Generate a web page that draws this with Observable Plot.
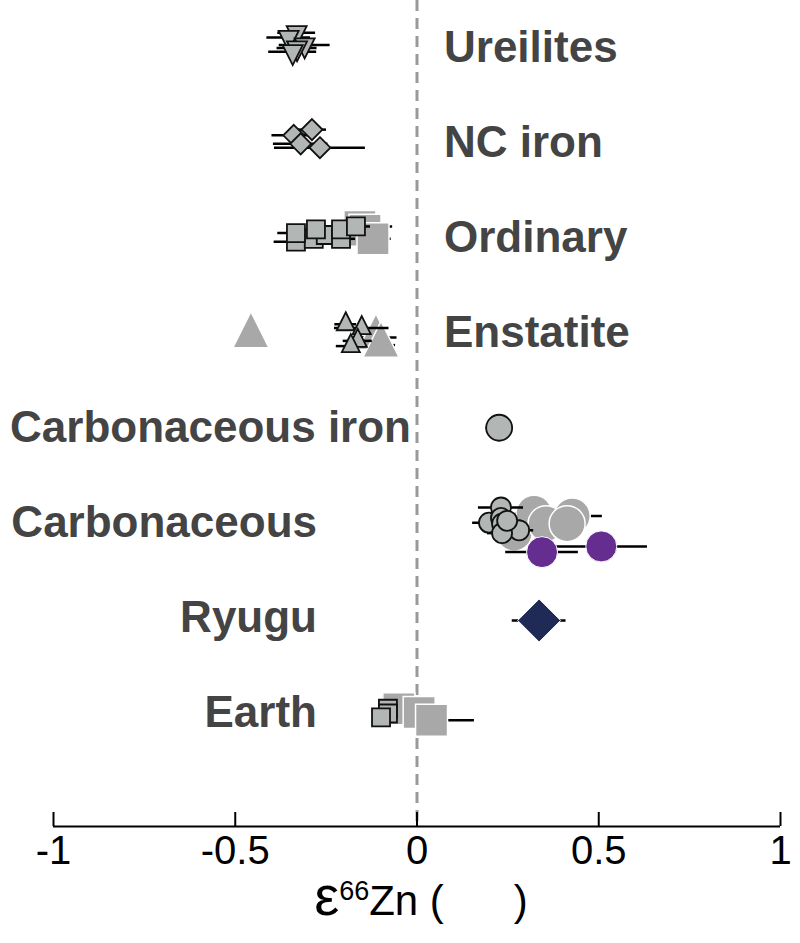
<!DOCTYPE html>
<html><head><meta charset="utf-8">
<script src="https://cdn.jsdelivr.net/npm/d3@7"></script>
<script src="https://cdn.jsdelivr.net/npm/@observablehq/plot@0.6"></script>
<style>body{margin:0;background:#fff;} #chart svg{display:block;}</style>
</head><body><div id="chart"></div>
<script>
// ---------- data ----------
const categories = ["Ureilites","NC iron","Ordinary","Enstatite","Carbonaceous iron","Carbonaceous","Ryugu","Earth"];
const labelSide = ["right","right","right","right","left","left","left","left"];
const xTicks = [-1, -0.5, 0, 0.5, 1];
const xTickLabels = ["-1", "-0.5", "0", "0.5", "1"];
const xLabelParts = ["ε", "66", "Zn (      )"];

// literature data (small outlined markers): group index, ε66Zn, error, vertical jitter within row
const litGroup  = [0,0,0,0,0, 1,1,1,1, 2,2,2,2,2,2,2,2, 3,3,3,3, 4, 5,5,5,5,5,5,5, 7,7,7];
const litValue  = [-0.331,-0.353,-0.309,-0.330,-0.342, -0.289,-0.339,-0.320,-0.267,
                   -0.333,-0.284,-0.251,-0.209,-0.333,-0.278,-0.209,-0.168,
                   -0.196,-0.152,-0.163,-0.182, 0.226,
                   0.231,0.198,0.231,0.234,0.281,0.234,0.248, -0.080,-0.080,-0.099];
const litError  = [0.052,0.060,0.070,0.055,0.066, 0.040,0.060,0.075,0.125,
                   0.060,0.040,0.040,0.040,0.050,0.040,0.040,0.040,
                   0.030,0.075,0.040,0.040, 0.036,
                   0.062,0.045,0.040,0.040,0.040,0.040,0.040, 0.020,0.020,0.020];
const litJitter = [-0.16,-0.11,-0.03,0.00,0.04, -0.14,-0.08,0.01,0.05,
                   0.04,0.01,-0.03,0.01,-0.05,-0.09,-0.09,-0.12,
                   -0.09,-0.05,0.085,0.14, 0.0,
                   -0.16,0.0,-0.05,0.01,0.08,0.11,-0.02, -0.04,0.01,0.05];

// this-study data (large grey markers)
const newGroup  = [2,2,2, 3,3,3, 5,5,5,5,5, 7,7,7];
const newValue  = [-0.157,-0.143,-0.121, -0.457,-0.113,-0.099, 0.267,0.322,0.355,0.427,0.413, -0.050,0.006,0.040];
const newError  = [0.090,0.050,0.050, 0.030,0.058,0.040, 0.040,0.050,0.050,0.083,0.050, 0.030,0.030,0.118];
const newJitter = [-0.12,-0.08,0.01, 0.03,0.05,0.13, 0.11,-0.10,0.01,-0.07,0.01, -0.04,0.0,0.08];

// highlighted carbonaceous samples (purple)
const cGroup  = [5,5];
const cValue  = [0.344, 0.507];
const cError  = [0.100, 0.127];
const cJitter = [0.31, 0.25];

// Ryugu
const ryGroup  = [6];
const ryValue  = [0.336];
const ryError  = [0.074];
const ryJitter = [0.03];

// ---------- build tables ----------
const table = (G, V, E, J) => V.map((v, i) => ({g: G[i], x: v, err: E[i], y: G[i] + 1 + J[i]}));
const lit = table(litGroup, litValue, litError, litJitter);
const neu = table(newGroup, newValue, newError, newJitter);
const carb = table(cGroup, cValue, cError, cJitter);
const ryugu = table(ryGroup, ryValue, ryError, ryJitter);
const labels = categories.map((c, i) => ({name: c, y: i + 1, side: labelSide[i]}));

// ---------- symbols (r = half extent) ----------
const mk = fn => ({draw(ctx, size) { const r = Math.sqrt(size / Math.PI); fn(ctx, r); }});
const SQ = mk((c, r) => { c.rect(-r, -r, 2 * r, 2 * r); });
const DI = mk((c, r) => { c.moveTo(0, -r); c.lineTo(r, 0); c.lineTo(0, r); c.lineTo(-r, 0); c.closePath(); });
const TU = mk((c, r) => { c.moveTo(0, -4 * r / 3); c.lineTo(r, 2 * r / 3); c.lineTo(-r, 2 * r / 3); c.closePath(); });
const TD = mk((c, r) => { c.moveTo(0, 4 * r / 3); c.lineTo(r, -2 * r / 3); c.lineTo(-r, -2 * r / 3); c.closePath(); });
const CI = mk((c, r) => { c.moveTo(r, 0); c.arc(0, 0, r, 0, 2 * Math.PI); c.closePath(); });

const litSym = [TD, DI, SQ, TU, CI, CI, DI, SQ];
const litR   = [10, 10.5, 9, 9, 13, 10, 10, 9];
const newSym = {2: SQ, 3: TU, 5: CI, 7: SQ};
const newR   = {2: 16, 3: 18, 5: 18, 7: 16};

const smallFill = "#b2b7b6", bigFill = "#a8a8a8", purple = "#662d91", navy = "#1f2a56";

const bars = data => Plot.ruleY(data, {y: "y", x1: d => d.x - d.err, x2: d => d.x + d.err, stroke: "#000", strokeWidth: 2.5});

const marks = [];
marks.push(Plot.ruleX([0], {stroke: "#999", strokeWidth: 3, strokeDasharray: "11,7"}));
// large (this study)
marks.push(bars(neu));
for (const g of [2, 3, 5, 7]) {
  marks.push(Plot.dot(neu.filter(d => d.g === g), {x: "x", y: "y", symbol: newSym[g], r: newR[g], fill: bigFill, stroke: "#fff", strokeWidth: 1.5}));
}
// purple carbonaceous
marks.push(bars(carb));
marks.push(Plot.dot(carb, {x: "x", y: "y", symbol: CI, r: 15.5, fill: purple, stroke: "#fff", strokeWidth: 1}));
// literature
marks.push(bars(lit));
for (const g of [0, 1, 2, 3, 4, 5, 7]) {
  marks.push(Plot.dot(lit.filter(d => d.g === g), {x: "x", y: "y", symbol: litSym[g], r: litR[g], fill: smallFill, stroke: "#111", strokeWidth: 1.8}));
}
// Ryugu
marks.push(bars(ryugu));
marks.push(Plot.dot(ryugu, {x: "x", y: "y", symbol: DI, r: 21.5, fill: navy, stroke: "#fff", strokeWidth: 1}));

// category labels
const lab = {fontSize: 44, fontWeight: "bold", fill: "#444"};
marks.push(Plot.text(labels.filter(d => d.side === "right"), {x: () => 0, y: "y", text: "name", textAnchor: "start", dx: 27, ...lab}));
marks.push(Plot.text(labels.filter(d => d.side === "left" && d.name !== "Carbonaceous iron"), {x: () => 0, y: "y", text: "name", textAnchor: "end", dx: -100, ...lab}));
marks.push(Plot.text(labels.filter(d => d.name === "Carbonaceous iron"), {x: () => 0, y: "y", text: "name", textAnchor: "end", dx: -6, ...lab}));

// axis
const yDomain = [0.5, 9.2];
marks.push(Plot.ruleY([yDomain[1]], {x1: xTicks[0], x2: xTicks[xTicks.length - 1], stroke: "#000", strokeWidth: 2}));
marks.push(Plot.axisX(xTicks, {anchor: "bottom", tickSize: -14, strokeWidth: 2, tickFormat: () => "", label: null}));
marks.push(Plot.axisX(xTicks, {anchor: "bottom", tickSize: 0, tickPadding: 9, fontSize: 40, fill: "#000", tickFormat: d => xTickLabels[xTicks.indexOf(d)], label: null}));
marks.push(Plot.text([xLabelParts.join("")], {frameAnchor: "bottom", dy: 88, dx: 4, fontSize: 42, fill: "#000"}));

const chart = Plot.plot({
  width: 800, height: 943,
  marginTop: 0, marginBottom: 117, marginLeft: 53, marginRight: 20,
  style: {fontFamily: "'Liberation Sans', Arial, Helvetica, sans-serif", background: "#fff", overflow: "visible"},
  x: {domain: [xTicks[0], xTicks[xTicks.length - 1]], axis: null},
  y: {domain: yDomain, reverse: true, axis: null},
  marks
});
document.getElementById("chart").append(chart);

// rich x label (epsilon + superscript)
const full = xLabelParts.join("");
const t = Array.from(chart.querySelectorAll("text")).find(el => el.textContent === full);
if (t) {
  t.textContent = "";
  t.setAttribute("style", "white-space: pre");
  const ns = "http://www.w3.org/2000/svg";
  const a = document.createElementNS(ns, "tspan"); a.textContent = xLabelParts[0]; a.setAttribute("font-size", 56); t.append(a);
  const b = document.createElementNS(ns, "tspan"); b.textContent = xLabelParts[1]; b.setAttribute("font-size", 27); b.setAttribute("dy", -15); t.append(b);
  const c = document.createElementNS(ns, "tspan"); c.textContent = xLabelParts[2]; c.setAttribute("dy", 15); t.append(c);
}
</script>
</body></html>
